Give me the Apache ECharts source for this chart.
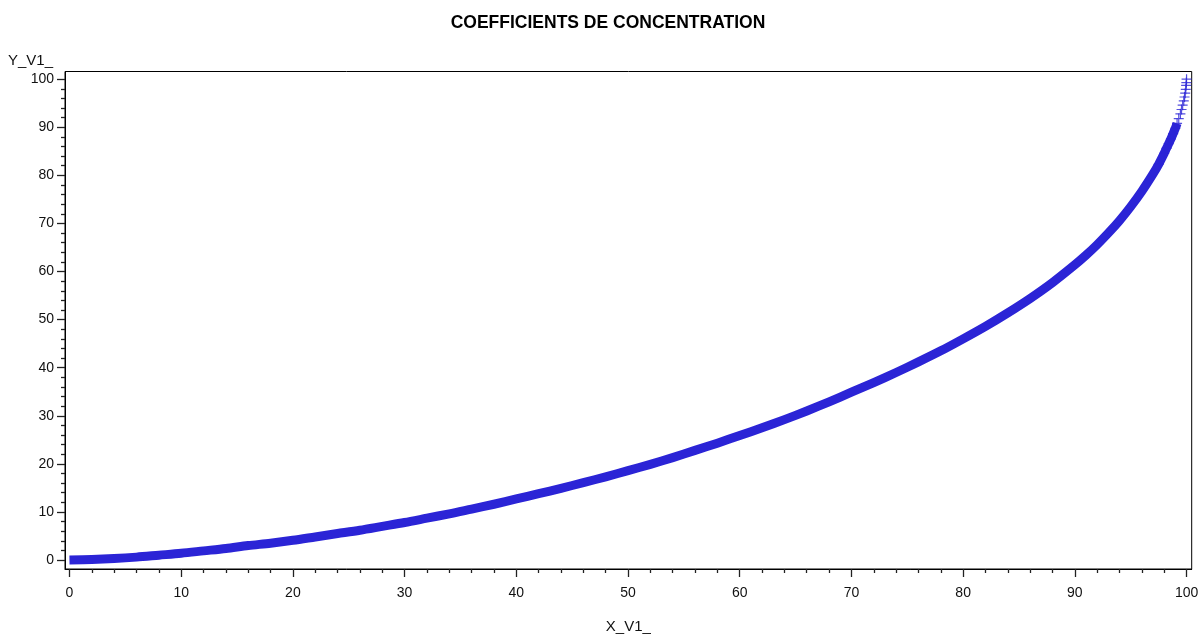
<!DOCTYPE html>
<html>
<head>
<meta charset="utf-8">
<script src="https://cdn.jsdelivr.net/npm/echarts@6/dist/echarts.min.js"></script>
<style>
  html, body { margin: 0; padding: 0; background: #fff; }
  #chart { width: 1200px; height: 637px; }
</style>
</head>
<body>
<div id="chart"></div>
<script>
// Concentration curve: cumulative share of units (X) vs cumulative share of value (Y)
const xV1 = [0, 2, 4, 6, 8, 10, 12, 14, 16, 18, 20, 22, 24, 26, 28, 30, 32, 34, 36, 38,
  40, 42, 44, 46, 48, 50, 52, 54, 56, 58, 60, 62, 64, 66, 68, 70, 72, 74, 76, 78,
  80, 82, 84, 86, 88, 90, 91, 92, 93, 94, 95, 96, 97, 97.5,
  98, 98.2, 98.4, 98.6, 98.8, 99, 99.15, 99.3, 99.45, 99.55, 99.65, 99.75, 99.82, 99.88, 99.93, 99.96, 99.98, 100];
const yV1 = [0, 0.1, 0.3, 0.6, 1.0, 1.4, 1.9, 2.4, 3.0, 3.5, 4.1, 4.8, 5.5, 6.2, 7.0, 7.8, 8.7, 9.6, 10.6, 11.6,
  12.7, 13.8, 14.9, 16.1, 17.3, 18.6, 19.9, 21.3, 22.8, 24.3, 25.9, 27.5, 29.2, 31.0, 32.9, 34.9, 36.9, 39.0, 41.2, 43.5,
  46.0, 48.6, 51.4, 54.4, 57.7, 61.4, 63.4, 65.6, 68.0, 70.6, 73.5, 76.7, 80.3, 82.3,
  84.6, 85.6, 86.6, 87.6, 88.7, 89.8, 90.8, 91.8, 92.8, 93.7, 94.6, 95.5, 96.3, 97.1, 97.9, 98.7, 99.3, 100];

const majorTicks = [0, 10, 20, 30, 40, 50, 60, 70, 80, 90, 100];
const minorTicks = [2, 4, 6, 8, 12, 14, 16, 18, 22, 24, 26, 28, 32, 34, 36, 38, 42, 44, 46, 48,
  52, 54, 56, 58, 62, 64, 66, 68, 72, 74, 76, 78, 82, 84, 86, 88, 92, 94, 96, 98];

const curve = xV1.map((x, i) => [x, yV1[i]]);
// the dense band: most of the curve, where plus markers merge together
const bandPoints = curve.filter(p => p[0] <= 99.15);
// individual plus markers stay distinguishable on the steep upper end
const topPoints = curve.filter(p => p[0] >= 97.5);

const BLUE = '#2b24d6';
const FONT = 'Liberation Sans, Arial, sans-serif';
const plus = 'path://M4.4,0h1.2v4.4h4.4v1.2h-4.4v4.4h-1.2v-4.4h-4.4v-1.2h4.4z';

const chart = echarts.init(document.getElementById('chart'), null, { renderer: 'canvas' });

function axisPair(dim) {
  const isX = dim === 'x';
  const range = isX ? { min: -0.4, max: 100.46 } : { min: -1.87, max: 101.6 };
  const main = Object.assign({
    type: 'value',
    position: isX ? 'bottom' : 'left',
    splitLine: { show: false },
    axisLine: { show: true, onZero: false, lineStyle: { color: '#000', width: 1 } },
    axisTick: { show: true, inside: false, length: 8, customValues: majorTicks,
      lineStyle: { color: '#222', width: 1.3 } },
    axisLabel: { show: true, customValues: majorTicks, margin: isX ? 17 : 11,
      color: '#111', fontFamily: FONT, fontSize: 14 }
  }, range);
  const minor = Object.assign({
    type: 'value',
    position: isX ? 'bottom' : 'left',
    offset: 0,
    splitLine: { show: false },
    axisLine: { show: false, onZero: false },
    axisTick: { show: true, inside: false, length: 4, customValues: minorTicks,
      lineStyle: { color: '#222', width: 1.3 } },
    axisLabel: { show: false }
  }, range);
  return [main, minor];
}

const xAxes = axisPair('x');
xAxes[0].name = 'X_V1_';
xAxes[0].nameLocation = 'middle';
xAxes[0].nameGap = 50;
xAxes[0].nameTextStyle = { color: '#111', fontFamily: FONT, fontSize: 15 };

const yAxes = axisPair('y');
yAxes[0].name = 'Y_V1_';
yAxes[0].nameLocation = 'end';
yAxes[0].nameGap = 3;
yAxes[0].nameTextStyle = { color: '#111', fontFamily: FONT, fontSize: 15,
  align: 'right', verticalAlign: 'bottom', padding: [0, 12, 0, 0] };

chart.setOption({
  animation: false,
  backgroundColor: '#fff',
  title: {
    text: 'COEFFICIENTS DE CONCENTRATION',
    left: 603, top: 9, textAlign: 'center',
    textStyle: { fontFamily: FONT, fontSize: 17.5, fontWeight: 'bold', color: '#000' }
  },
  grid: {
    left: 65, top: 71.5, right: 8.3, bottom: 68,
    containLabel: false, outerBoundsMode: 'none',
    show: true, borderColor: '#000', borderWidth: 1, backgroundColor: 'transparent'
  },
  xAxis: xAxes,
  yAxis: yAxes,
  series: [
    {
      name: 'Y_V1_',
      type: 'line',
      data: bandPoints,
      smooth: 0.3,
      showSymbol: false,
      symbol: 'none',
      lineStyle: { color: BLUE, width: 9, cap: 'butt', join: 'round' },
      z: 2
    },
    {
      name: 'Y_V1_ points',
      type: 'scatter',
      data: topPoints,
      symbol: plus,
      symbolSize: 10,
      itemStyle: { color: BLUE, opacity: 0.8 },
      z: 3
    }
  ]
});
</script>
</body>
</html>
